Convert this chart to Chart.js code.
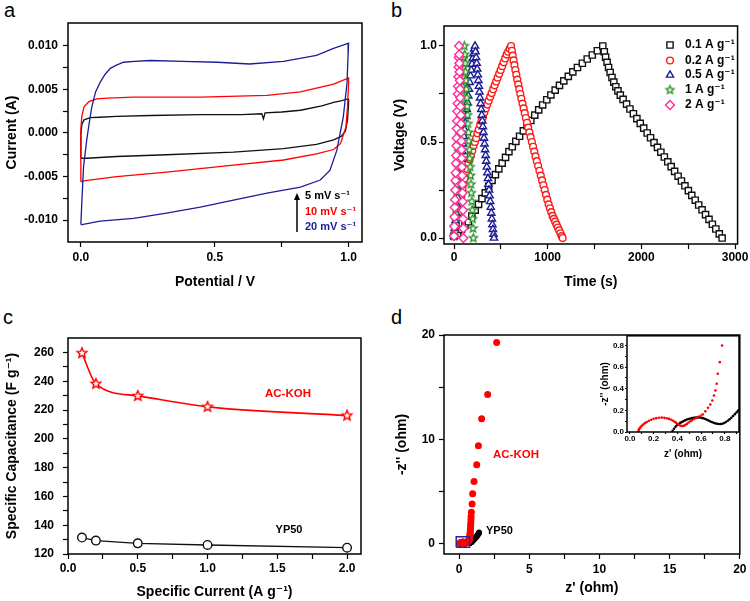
<!DOCTYPE html>
<html>
<head>
<meta charset="utf-8">
<script src="https://cdn.jsdelivr.net/npm/chart.js"></script>
<style>
  body { margin: 0; background: #fff; width: 750px; height: 601px; position: relative; overflow: hidden;
         font-family: 'Liberation Sans', 'DejaVu Sans', Arial, sans-serif; }
  canvas { position: absolute; }
  .letter { position: absolute; font-size: 20px; line-height: 20px; color: #000; }
</style>
</head>
<body>
<div class="letter" style="left:4px;top:0px">a</div>
<div class="letter" style="left:391px;top:0px">b</div>
<div class="letter" style="left:3px;top:307px">c</div>
<div class="letter" style="left:391px;top:307px">d</div>

<canvas id="ca" width="375" height="300" style="left:0;top:0"></canvas>
<canvas id="cb" width="375" height="300" style="left:375px;top:0"></canvas>
<canvas id="cc" width="375" height="301" style="left:0;top:300px"></canvas>
<canvas id="cd" width="375" height="301" style="left:375px;top:300px"></canvas>
<canvas id="cdi" width="160" height="135" style="left:585px;top:330px"></canvas>

<script>
// ---- a: cyclic voltammetry (potential V, current A), loops ----
var aBlackV = [0, 0, 0.004, 0.012, 0.035, 0.07, 0.134, 0.26, 0.446, 0.6, 0.676, 0.682, 0.688, 0.75, 0.82, 0.9, 0.944, 0.975, 0.998, 1.0,
               0.996, 0.988, 0.972, 0.944, 0.88, 0.757, 0.57, 0.32, 0.134, 0.022, 0];
var aBlackI = [-0.0029, -0.0002, 0.0010, 0.0015, 0.00176, 0.0018, 0.0019, 0.0020, 0.0021, 0.0021, 0.0022, 0.0016, 0.0023, 0.0024, 0.0026, 0.0031, 0.0035, 0.0037, 0.0039, 0.0034,
               0.0015, 0.0002, -0.0004, -0.0008, -0.0013, -0.0018, -0.0022, -0.0025, -0.0027, -0.0029, -0.0029];
var aRedV = [0, 0, 0.004, 0.012, 0.03, 0.06, 0.1, 0.197, 0.446, 0.695, 0.82, 0.944, 1.0, 1.0, 0.996, 0.99, 0.97, 0.944, 0.88, 0.757, 0.57, 0.32, 0.134, 0.01, 0];
var aRedI = [-0.0056, 0.0005, 0.0020, 0.0030, 0.0036, 0.0039, 0.0040, 0.0041, 0.0041, 0.0043, 0.0047, 0.0056, 0.0063, 0.0058, 0.0030, 0.0007, -0.0012, -0.0019, -0.0024, -0.0031, -0.0037, -0.0045, -0.0050, -0.0055, -0.0056];
var aBlueV = [0, 0.004, 0.01, 0.022, 0.032, 0.041, 0.055, 0.072, 0.09, 0.11, 0.135, 0.16, 0.2, 0.26, 0.38, 0.51, 0.63, 0.757, 0.88, 0.944,
              1.0, 0.998, 0.994, 0.98, 0.956, 0.93, 0.894, 0.82, 0.695, 0.57, 0.446, 0.32, 0.197, 0.072, 0.004, 0];
var aBlueI = [-0.0105, -0.0077, -0.0039, -0.0008, 0.0013, 0.0030, 0.0047, 0.0058, 0.0067, 0.0074, 0.0078, 0.0081, 0.0082, 0.0083, 0.0082, 0.0081, 0.0079, 0.0082, 0.0089, 0.0097,
              0.0103, 0.0089, 0.0057, 0.0018, -0.0020, -0.0043, -0.0054, -0.0062, -0.0069, -0.0077, -0.0085, -0.0092, -0.0098, -0.0101, -0.0105, -0.0105];
var aXMajor = [0, 0.5, 1.0], aXMinor = [0.25, 0.75];
var aYMajor = [-0.01, -0.005, 0, 0.005, 0.01], aYMinor = [-0.0075, -0.0025, 0.0025, 0.0075];

// ---- b: charge/discharge (time s, voltage V) ----
var b01T = [0, 40, 80, 117, 153, 190, 226, 262, 298, 334, 370, 406, 442, 478, 514, 550, 586, 622, 660, 700,
            740, 780, 820, 862, 904, 946, 990, 1034, 1080, 1126, 1172, 1220, 1268, 1318, 1370, 1422, 1476, 1530, 1588,
            1604, 1618, 1634, 1650, 1667, 1686, 1706, 1727, 1750, 1775, 1805, 1842, 1878, 1915, 1952, 1988, 2025, 2062, 2098, 2135,
            2172, 2208, 2245, 2282, 2318, 2355, 2392, 2428, 2465, 2502, 2538, 2575, 2612, 2648, 2685, 2722, 2758, 2795, 2832, 2862];
var b01V = [0.01, 0.025, 0.045, 0.065, 0.085, 0.115, 0.145, 0.175, 0.205, 0.235, 0.27, 0.30, 0.33, 0.36, 0.39, 0.42, 0.45, 0.475, 0.503, 0.53,
            0.558, 0.585, 0.612, 0.64, 0.667, 0.693, 0.72, 0.745, 0.77, 0.795, 0.818, 0.842, 0.865, 0.888, 0.91, 0.932, 0.953, 0.975, 1.0,
            0.97, 0.942, 0.915, 0.888, 0.862, 0.836, 0.812, 0.788, 0.766, 0.744, 0.722, 0.697, 0.672, 0.647, 0.622, 0.597, 0.572, 0.547, 0.522, 0.497,
            0.472, 0.447, 0.422, 0.397, 0.372, 0.347, 0.322, 0.297, 0.272, 0.247, 0.222, 0.197, 0.172, 0.147, 0.122, 0.097, 0.072, 0.047, 0.022, 0.0];
var b02T = [0, 10, 20, 30, 42, 54, 66, 78, 90, 102, 115, 128, 141, 154, 167, 180, 194, 208, 222, 236, 250, 264, 279, 294, 309, 324, 339, 354,
            370, 386, 402, 418, 434, 450, 466, 482, 498, 514, 530, 546, 562, 578, 594, 609,
            618, 627, 636, 645, 655, 665, 675, 686, 697, 708, 719, 731, 743, 755, 767, 779, 792, 805, 818, 831, 844, 857, 870, 884,
            898, 912, 926, 940, 954, 968, 982, 996, 1010, 1024, 1038, 1052, 1066, 1080, 1094, 1108, 1122, 1136, 1150, 1160];
var b02V = [0.01, 0.04, 0.07, 0.10, 0.13, 0.16, 0.19, 0.22, 0.25, 0.28, 0.31, 0.34, 0.36, 0.39, 0.41, 0.43, 0.455, 0.48, 0.50, 0.52, 0.545, 0.565, 0.59, 0.61, 0.63, 0.655, 0.675, 0.695,
            0.715, 0.735, 0.755, 0.775, 0.795, 0.815, 0.835, 0.855, 0.875, 0.895, 0.915, 0.935, 0.955, 0.97, 0.985, 1.0,
            0.975, 0.95, 0.925, 0.90, 0.875, 0.85, 0.825, 0.80, 0.775, 0.75, 0.725, 0.70, 0.675, 0.65, 0.625, 0.60, 0.575, 0.55, 0.525, 0.50, 0.475, 0.45, 0.425, 0.40,
            0.375, 0.35, 0.325, 0.30, 0.275, 0.25, 0.225, 0.20, 0.175, 0.155, 0.135, 0.115, 0.10, 0.085, 0.07, 0.055, 0.04, 0.025, 0.01, 0.0];
var b05T = [0, 8, 16, 24, 32, 40, 48, 56, 64, 72, 80, 88, 96, 104, 112, 120, 128, 136, 144, 152, 160, 168, 176, 184, 192, 200, 208, 216, 224,
            230, 236, 242, 248, 254, 260, 266, 272, 278, 284, 290, 296, 302, 308, 314, 320, 326, 332, 338, 344, 350, 356, 362, 368,
            374, 380, 386, 392, 398, 404, 410, 416, 422, 427];
var b05V = [0.01, 0.05, 0.09, 0.13, 0.17, 0.21, 0.25, 0.29, 0.33, 0.37, 0.41, 0.45, 0.49, 0.53, 0.565, 0.60, 0.635, 0.67, 0.705, 0.74, 0.775, 0.81, 0.845, 0.875, 0.905, 0.935, 0.96, 0.985, 1.0,
            0.97, 0.94, 0.91, 0.88, 0.85, 0.82, 0.79, 0.76, 0.73, 0.70, 0.67, 0.64, 0.61, 0.58, 0.55, 0.52, 0.49, 0.46, 0.43, 0.40, 0.37, 0.34, 0.31, 0.28,
            0.25, 0.22, 0.19, 0.16, 0.13, 0.10, 0.07, 0.045, 0.02, 0.0];
var b1T = [0, 5, 10, 15, 20, 25, 30, 35, 40, 45, 50, 55, 60, 65, 70, 75, 80, 85, 90, 95, 100, 105, 110,
           114, 118, 122, 126, 131, 136, 140, 145, 149, 154, 158, 163, 167, 172, 176, 181, 185, 190, 194, 198, 202, 206];
var b1V = [0.01, 0.06, 0.11, 0.15, 0.19, 0.24, 0.28, 0.32, 0.37, 0.41, 0.45, 0.49, 0.54, 0.58, 0.62, 0.66, 0.70, 0.75, 0.79, 0.84, 0.89, 0.94, 1.0,
           0.955, 0.91, 0.865, 0.82, 0.775, 0.73, 0.685, 0.64, 0.595, 0.55, 0.505, 0.46, 0.415, 0.37, 0.325, 0.28, 0.235, 0.19, 0.145, 0.10, 0.05, 0.0];
var b2T = [0, 2.5, 5, 7.5, 10, 12.5, 15, 17.5, 20, 22.5, 25, 27.5, 30, 32.5, 35, 37.5, 40, 42.5, 45, 47.5, 50, 53,
           55, 57, 59, 62, 64, 66, 68, 71, 73, 75, 78, 80, 82, 84, 87, 89, 91, 93, 96, 98, 99, 100];
var b2V = [0.01, 0.06, 0.11, 0.16, 0.2, 0.25, 0.3, 0.34, 0.39, 0.43, 0.48, 0.52, 0.57, 0.61, 0.66, 0.70, 0.75, 0.79, 0.84, 0.89, 0.94, 1.0,
           0.955, 0.91, 0.865, 0.82, 0.775, 0.73, 0.685, 0.64, 0.595, 0.55, 0.505, 0.46, 0.415, 0.37, 0.325, 0.28, 0.235, 0.19, 0.145, 0.10, 0.05, 0.0];
var bLabels = ['0.1 A g\u207B\u00B9', '0.2 A g\u207B\u00B9', '0.5 A g\u207B\u00B9', '1 A g\u207B\u00B9', '2 A g\u207B\u00B9'];
var bXMajor = [0, 1000, 2000, 3000], bXMinor = [500, 1500, 2500];
var bYMajor = [0, 0.5, 1.0], bYMinor = [0.25, 0.75];

// ---- c: specific capacitance vs specific current ----
var cCurrent = [0.1, 0.2, 0.5, 1.0, 2.0];
var cACKOH = [259.5, 238.2, 229.8, 222.2, 216.1];
var cYP50 = [131.4, 129.3, 127.4, 126.3, 124.4];
var cXMajor = [0, 0.5, 1.0, 1.5, 2.0], cXMinor = [0.25, 0.75, 1.25, 1.75];
var cYMajor = [120, 140, 160, 180, 200, 220, 240, 260], cYMinor = [130, 150, 170, 190, 210, 230, 250];

// ---- d: Nyquist (z' ohm, -z'' ohm) ----
var dRedX = [0.070, 0.072, 0.076, 0.082, 0.090, 0.100, 0.112, 0.126, 0.142, 0.160, 0.180, 0.200, 0.222, 0.245, 0.268, 0.290, 0.310, 0.330, 0.348, 0.364,
             0.378, 0.391, 0.403, 0.415, 0.427, 0.440, 0.453, 0.466, 0.480, 0.495, 0.510, 0.525, 0.542, 0.560, 0.578, 0.596,
             0.614, 0.636, 0.659, 0.678, 0.695, 0.709, 0.721, 0.732, 0.741, 0.758, 0.777];
var dRedY = [0.000, 0.010, 0.022, 0.034, 0.046, 0.058, 0.070, 0.082, 0.093, 0.104, 0.114, 0.122, 0.128, 0.132, 0.133, 0.131, 0.127, 0.121, 0.113, 0.104,
             0.094, 0.084, 0.074, 0.065, 0.058, 0.055, 0.057, 0.064, 0.075, 0.088, 0.100, 0.110, 0.120, 0.130, 0.140, 0.150,
             0.163, 0.191, 0.225, 0.255, 0.292, 0.338, 0.384, 0.446, 0.539, 0.646, 0.800];
var dBlackX = [0.360, 0.372, 0.384, 0.396, 0.410, 0.424, 0.438, 0.452, 0.466, 0.480, 0.495, 0.510, 0.525, 0.540, 0.555, 0.570, 0.585, 0.600, 0.615, 0.630,
               0.645, 0.660, 0.675, 0.690, 0.705, 0.720, 0.735, 0.750, 0.765, 0.780, 0.795, 0.810, 0.825, 0.840, 0.855, 0.870, 0.885, 0.900, 0.912];
var dBlackY = [0.010, 0.030, 0.048, 0.062, 0.074, 0.084, 0.093, 0.101, 0.108, 0.115, 0.120, 0.125, 0.129, 0.132, 0.134, 0.135, 0.134, 0.132, 0.128, 0.123,
               0.116, 0.108, 0.100, 0.092, 0.085, 0.080, 0.076, 0.074, 0.074, 0.077, 0.083, 0.092, 0.104, 0.117, 0.132, 0.148, 0.165, 0.182, 0.198];
// points beyond the inset range (main plot only)
var dRedTailX = [0.79, 0.80, 0.81, 0.82, 0.83, 0.84, 0.85, 0.86, 0.88, 0.93, 0.97, 1.07, 1.26, 1.38, 1.61, 2.04, 2.68];
var dRedTailY = [0.95, 1.1, 1.3, 1.5, 1.75, 2.0, 2.3, 2.6, 3.0, 3.8, 4.77, 5.95, 7.55, 9.37, 11.96, 14.29, 19.27];
var dBlackTailX = [0.95, 1.0, 1.05, 1.1, 1.15, 1.2, 1.25, 1.3, 1.35, 1.4, 1.43];
var dBlackTailY = [0.25, 0.31, 0.38, 0.45, 0.53, 0.61, 0.69, 0.78, 0.87, 0.97, 1.05];
var dBoxX = [-0.2, 0.75, 0.75, -0.2, -0.2];
var dBoxY = [-0.35, -0.35, 0.65, 0.65, -0.35];
var dXMajor = [0, 5, 10, 15, 20], dXMinor = [2.5, 7.5, 12.5, 17.5];
var dYMajor = [0, 10, 20], dYMinor = [5, 15];
var dIXMajor = [0, 0.2, 0.4, 0.6, 0.8], dIXMinor = [0.1, 0.3, 0.5, 0.7, 0.9];
var dIYMajor = [0, 0.2, 0.4, 0.6, 0.8], dIYMinor = [0.1, 0.3, 0.5, 0.7];

var FONT = "'Liberation Sans', 'DejaVu Sans', Arial, sans-serif";
Chart.defaults.font.family = FONT;
Chart.defaults.font.weight = 'bold';
Chart.defaults.font.size = 12;
Chart.defaults.color = '#000';

function pts(xs, ys) {
  return xs.map(function (x, i) { return {x: x, y: ys[i]}; });
}

// hollow 5-point star used as a marker
function starImage(r, color, lw) {
  var s = Math.ceil(r * 2 + lw * 2 + 2);
  var c = document.createElement('canvas');
  c.width = s; c.height = s;
  var g = c.getContext('2d');
  g.strokeStyle = color; g.fillStyle = '#fff'; g.lineWidth = lw; g.lineJoin = 'miter';
  g.beginPath();
  for (var k = 0; k < 10; k++) {
    var rr = k % 2 ? r * 0.45 : r;
    var ang = -Math.PI / 2 + k * Math.PI / 5;
    var px = s / 2 + rr * Math.cos(ang), py = s / 2 + rr * Math.sin(ang);
    if (k) g.lineTo(px, py); else g.moveTo(px, py);
  }
  g.closePath(); g.fill(); g.stroke();
  return c;
}

function axis(min, max, majors, minors, dec, title, f) {
  return {
    type: 'linear', min: min, max: max,
    afterBuildTicks: function (s) {
      s.ticks = majors.concat(minors).sort(function (p, q) { return p - q; })
        .map(function (v) { return {value: v}; });
    },
    afterFit: function (s) {
      if (s.isHorizontal()) s.height = f.size; else s.width = f.size;
    },
    ticks: {
      autoSkip: false, maxRotation: 0, padding: f.pad, font: {size: f.font || 12},
      callback: function (v) {
        return majors.some(function (m) { return Math.abs(m - v) < 1e-9; }) ? v.toFixed(dec) : '';
      }
    },
    grid: {drawOnChartArea: false, tickLength: f.tick == null ? 5 : f.tick, tickColor: '#000', tickWidth: 1.2},
    border: {display: false},
    title: {display: true, text: title, font: {size: f.tsize || 14}, padding: f.tpad}
  };
}

function options(top, right, scales, items) {
  return {
    responsive: false, animation: false,
    layout: {padding: {top: top, right: right, left: 0, bottom: 0}},
    scales: scales,
    plugins: {legend: {display: false}, tooltip: {enabled: false}, notes: {items: items || []}}
  };
}

// box around the plot area
var frame = {
  id: 'frame',
  afterDatasetsDraw: function (chart) {
    var a = chart.chartArea, c = chart.ctx;
    c.save();
    c.lineWidth = 1.5; c.strokeStyle = '#000';
    c.strokeRect(a.left, a.top, a.right - a.left, a.bottom - a.top);
    c.restore();
  }
};

// free text, legend markers and the arrow
var notes = {
  id: 'notes',
  afterDraw: function (chart, args, opts) {
    var ctx = chart.ctx;
    (opts.items || []).forEach(function (n) {
      ctx.save();
      if (n.ds != null) {
        var d = chart.data.datasets[n.ds];
        ctx.strokeStyle = d.borderColor; ctx.fillStyle = d.backgroundColor; ctx.lineWidth = d.borderWidth;
        Chart.helpers.drawPoint(ctx, {pointStyle: d.pointStyle, radius: d.pointRadius, rotation: 0, borderWidth: d.borderWidth}, n.mx, n.y);
      }
      if (n.arrow) {
        var p = n.arrow;
        ctx.strokeStyle = '#000'; ctx.fillStyle = '#000'; ctx.lineWidth = 1.5;
        ctx.beginPath(); ctx.moveTo(p[0], p[1]); ctx.lineTo(p[2], p[3] + 5); ctx.stroke();
        ctx.beginPath(); ctx.moveTo(p[2], p[3]); ctx.lineTo(p[2] - 3, p[3] + 7); ctx.lineTo(p[2] + 3, p[3] + 7); ctx.closePath(); ctx.fill();
      }
      if (n.text) {
        ctx.font = 'bold ' + n.size + 'px ' + FONT;
        ctx.fillStyle = n.color || '#000';
        ctx.textAlign = n.align || 'left';
        ctx.textBaseline = 'middle';
        ctx.fillText(n.text, n.x, n.y);
      }
      ctx.restore();
    });
  }
};

function line(xs, ys, color) {
  return {data: pts(xs, ys), showLine: true, borderColor: color, borderWidth: 1.3, pointRadius: 0, tension: 0, fill: false};
}
function marks(xs, ys, color, style, r, order) {
  return {data: pts(xs, ys), showLine: false, borderColor: color, backgroundColor: '#fff', borderWidth: 1.4,
          pointStyle: style, pointRadius: r, order: order};
}
function dots(xs, ys, color, r) {
  return {data: pts(xs, ys), showLine: false, borderColor: color, backgroundColor: color, borderWidth: 0, pointRadius: r};
}

// a
new Chart(document.getElementById('ca'), {
  type: 'scatter',
  data: {datasets: [
    line(aBlueV, aBlueI, '#1c1c96'),
    line(aRedV, aRedI, '#ff0000'),
    line(aBlackV, aBlackI, '#111111')
  ]},
  options: options(23, 13, {
    x: axis(-0.048, 1.05, aXMajor, aXMinor, 1, 'Potential / V', {size: 58, pad: 3, tpad: {top: 0, bottom: 9}}),
    y: axis(-0.0125, 0.0126, aYMajor, aYMinor, 3, 'Current (A)', {size: 68, pad: 5, tpad: {top: 4, bottom: 0}})
  }, [
    {arrow: [297, 232, 297, 193]},
    {text: '5 mV s\u207B\u00B9', x: 305, y: 196, size: 11, color: '#000'},
    {text: '10 mV s\u207B\u00B9', x: 305, y: 212, size: 11, color: '#ff0000'},
    {text: '20 mV s\u207B\u00B9', x: 305, y: 227, size: 11, color: '#1c1c96'}
  ]),
  plugins: [frame, notes]
});

// b
var star5 = starImage(4.2, '#1e8c1e', 1.3);
new Chart(document.getElementById('cb'), {
  type: 'scatter',
  data: {datasets: [
    marks(b01T, b01V, '#111111', 'rect', 4.4, 5),
    marks(b02T, b02V, '#ff1a1a', 'circle', 3.4, 4),
    marks(b05T, b05V, '#1c1c96', 'triangle', 4.2, 3),
    marks(b1T, b1V, '#1e8c1e', star5, 4.2, 2),
    marks(b2T, b2V, '#ff2d9b', 'rectRot', 4.4, 1)
  ]},
  options: options(26, 12, {
    x: axis(-107, 3027, bXMajor, bXMinor, 0, 'Time (s)', {size: 56, pad: 1.5, tpad: {top: 0, bottom: 9.5}}),
    y: axis(-0.031, 1.104, bYMajor, bYMinor, 1, 'Voltage (V)', {size: 69, pad: 2, tpad: {top: 16.5, bottom: 0}})
  }, [
    {ds: 0, mx: 295, text: bLabels[0], x: 310, y: 45, size: 12},
    {ds: 1, mx: 295, text: bLabels[1], x: 310, y: 60.5, size: 12},
    {ds: 2, mx: 295, text: bLabels[2], x: 310, y: 75, size: 12},
    {ds: 3, mx: 295, text: bLabels[3], x: 310, y: 90, size: 12},
    {ds: 4, mx: 295, text: bLabels[4], x: 310, y: 105, size: 12}
  ]),
  plugins: [frame, notes]
});

// c
new Chart(document.getElementById('cc'), {
  type: 'scatter',
  data: {datasets: [
    {data: pts(cCurrent, cACKOH), showLine: true, borderColor: '#ff0000', borderWidth: 1.6, cubicInterpolationMode: 'monotone',
     pointStyle: starImage(5.2, '#ff0000', 1.4), pointRadius: 5},
    {data: pts(cCurrent, cYP50), showLine: true, borderColor: '#111111', tension: 0,
     pointStyle: 'circle', pointRadius: 4.3, backgroundColor: '#fff', borderWidth: 1.4}
  ]},
  options: options(38, 14, {
    x: axis(0, 2.1, cXMajor, cXMinor, 1, 'Specific Current (A g\u207B\u00B9)', {size: 47, pad: 2.5, tpad: {top: 0, bottom: 0}}),
    y: axis(120, 270, cYMajor, cYMinor, 0, 'Specific Capacitance (F g\u207B\u00B9)', {size: 68, pad: 9, tpad: {top: 3.5, bottom: 0}})
  }, [
    {text: 'AC-KOH', x: 288, y: 94, size: 11.5, color: '#ff0000', align: 'center'},
    {text: 'YP50', x: 289, y: 230, size: 11, color: '#000', align: 'center'}
  ]),
  plugins: [frame, notes]
});

// d main
new Chart(document.getElementById('cd'), {
  type: 'scatter',
  data: {datasets: [
    {data: pts(dBoxX, dBoxY), showLine: true, borderColor: '#2424a0', borderWidth: 1.5, pointRadius: 0, tension: 0},
    dots(dRedX.concat(dRedTailX), dRedY.concat(dRedTailY), '#ff0000', 3.5),
    dots(dBlackX.concat(dBlackTailX), dBlackY.concat(dBlackTailY), '#000000', 3)
  ]},
  options: options(35, 10, {
    x: axis(-1.07, 20, dXMajor, dXMinor, 0, "z' (ohm)", {size: 47, pad: 3.5, tpad: {top: 0, bottom: 4.5}}),
    y: axis(-1, 20, dYMajor, dYMinor, 0, "-z'' (ohm)", {size: 69, pad: 4, tpad: {top: 18.5, bottom: 0}})
  }, [
    {text: 'AC-KOH', x: 141, y: 155, size: 11.5, color: '#ff0000', align: 'center'},
    {text: 'YP50', x: 111, y: 231, size: 11, color: '#000', align: 'left'}
  ]),
  plugins: [frame, notes]
});

// d inset
new Chart(document.getElementById('cdi'), {
  type: 'scatter',
  data: {datasets: [
    dots(dRedX, dRedY, '#ff0000', 1.3),
    dots(dBlackX, dBlackY, '#000000', 1.3)
  ]},
  options: options(5, 6, {
    x: axis(-0.025, 0.92, dIXMajor, dIXMinor, 1, "z' (ohm)", {size: 33, pad: 0, tick: 2, font: 8, tsize: 10, tpad: {top: 0, bottom: 5}}),
    y: axis(0, 0.89, dIYMajor, dIYMinor, 1, "-z'' (ohm)", {size: 42, pad: 1, tick: 2, font: 8, tsize: 10, tpad: {top: 14, bottom: 0}})
  }),
  plugins: [frame, notes]
});
</script>
</body>
</html>
